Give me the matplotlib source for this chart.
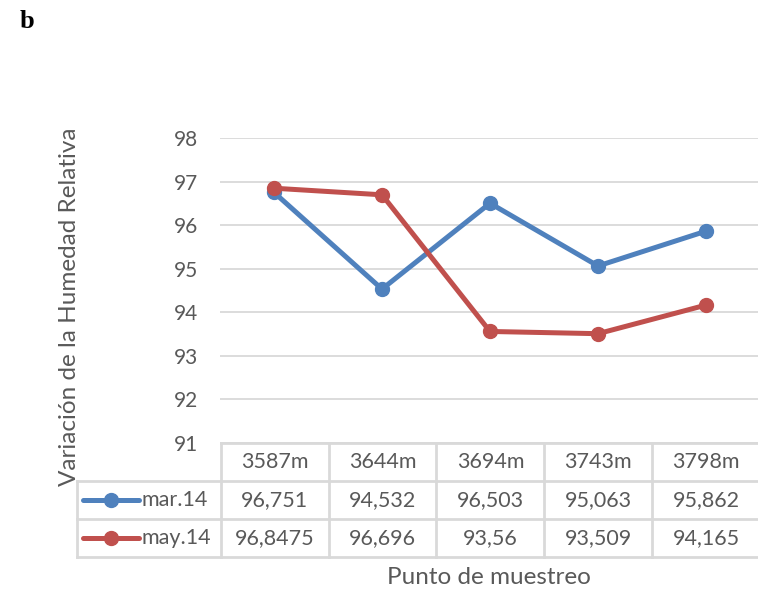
import matplotlib.pyplot as plt
from matplotlib.lines import Line2D

# data
puntos = ["3587m", "3644m", "3694m", "3743m", "3798m"]
mar14 = [96.751, 94.532, 96.503, 95.063, 95.862]
may14 = [96.8475, 96.696, 93.56, 93.509, 94.165]
mar14_txt = ["96,751", "94,532", "96,503", "95,063", "95,862"]
may14_txt = ["96,8475", "96,696", "93,56", "93,509", "94,165"]
series = [("mar.14", mar14, mar14_txt, "#4F81BD"),
          ("may.14", may14, may14_txt, "#C0504D")]

W, H = 758, 595
txt_col = "#595959"
grid_col = "#D9D9D9"
plt.rcParams["font.family"] = ["Lato", "DejaVu Sans"]

fig = plt.figure(figsize=(W / 100, H / 100), dpi=100)


def box(x0, y0, x1, y1):
    # pixel box -> figure fraction rect
    return [x0 / W, 1 - y1 / H, (x1 - x0) / W, (y1 - y0) / H]


ax = fig.add_axes(box(220, 138, 760, 443))
x = list(range(len(puntos)))
for name, vals, _, col in series:
    ax.plot(x, vals, color=col, lw=3.6, marker="o", ms=10, zorder=3,
            solid_capstyle="round")
ax.set_xlim(-0.5, len(puntos) - 0.5)
ax.set_ylim(91, 98)
ax.set_yticks(range(91, 99))
ax.yaxis.grid(True, color=grid_col, lw=1.3)
ax.set_xticks([])
for s in ax.spines.values():
    s.set_visible(False)
ax.tick_params(axis="y", length=0, pad=16, labelsize=15, labelcolor=txt_col)

# data table under the plot
fs = 15.5
tab = fig.add_axes(box(77, 443, 760, 557))
left = -0.5 - (221 - 77) / 108
tab.set_xlim(left, len(puntos) - 0.5)
tab.set_ylim(3, 0)
tab.axis("off")
lk = dict(color=grid_col, lw=2, clip_on=False)
tab.plot([-0.5, len(puntos) - 0.5], [0, 0], **lk)
for r in (1, 2, 3):
    tab.plot([left, len(puntos) - 0.5], [r, r], **lk)
tab.plot([left, left], [1, 3], **lk)
for c in range(len(puntos) + 1):
    tab.plot([c - 0.5, c - 0.5], [0, 3], **lk)
for i, p in enumerate(puntos):
    tab.text(i, 0.5, p, ha="center", va="center", fontsize=fs, color=txt_col)
for r, (name, vals, labels, col) in enumerate(series, start=1):
    for i, t in enumerate(labels):
        tab.text(i, r + 0.5, t, ha="center", va="center", fontsize=fs,
                 color=txt_col)
    x0 = left + (83 - 77) / 108
    x1 = left + (139 - 77) / 108
    tab.add_line(Line2D([x0, x1], [r + 0.5, r + 0.5], color=col, lw=3.6,
                        solid_capstyle="round"))
    tab.plot([(x0 + x1) / 2], [r + 0.5], "o", color=col, ms=10)
    tab.text(left + (142 - 77) / 108, r + 0.5, name, ha="left", va="center",
             fontsize=fs, color=txt_col)

fig.text(489 / W, 1 - 578 / H, "Punto de muestreo", ha="center", va="center",
         fontsize=17.5, color=txt_col)
fig.text(70 / W, 1 - 307 / H, "Variación de la Humedad Relativa",
         rotation=90, ha="center", va="center", fontsize=17.5, color=txt_col)
fig.text(20 / W, 1 - 21 / H, "b", ha="left", va="center", fontsize=19,
         fontweight="bold", family="Liberation Serif")

fig.savefig("out.png", dpi=100)
